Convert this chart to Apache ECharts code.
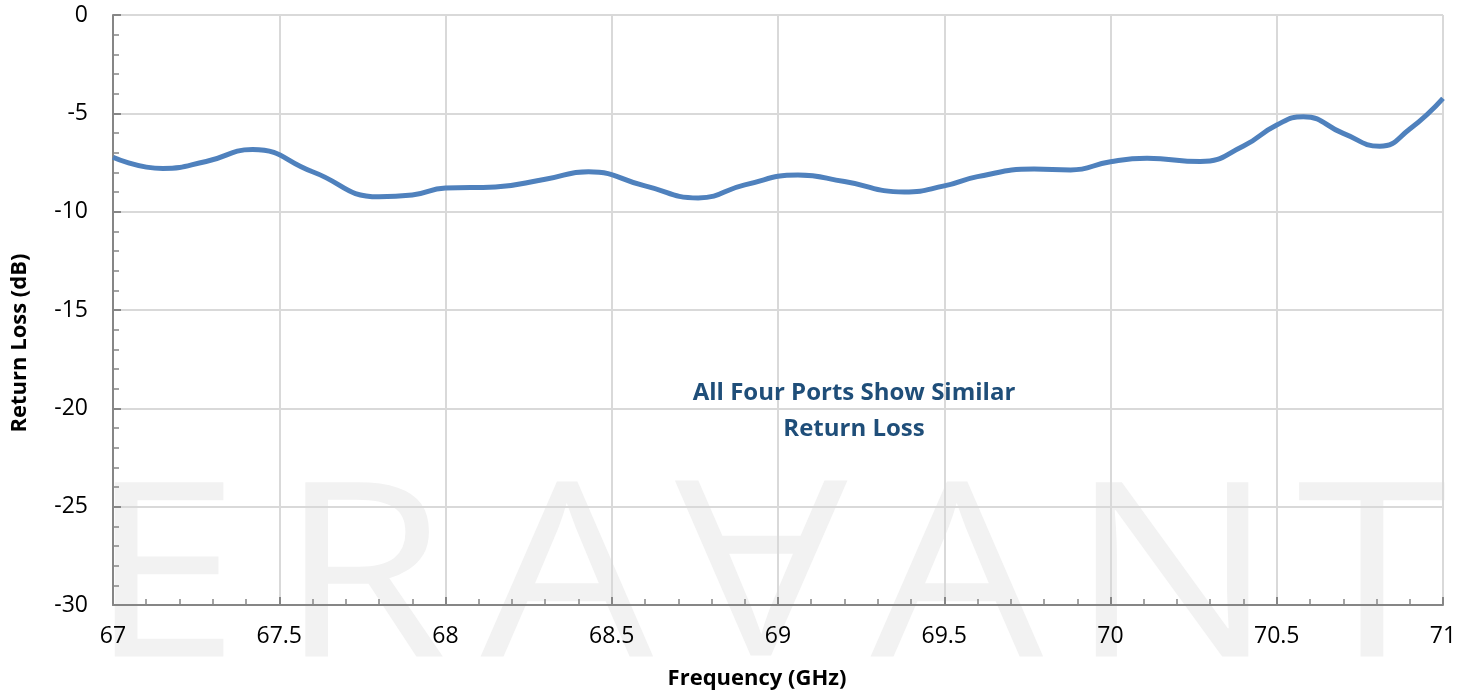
<!DOCTYPE html>
<html>
<head>
<meta charset="utf-8">
<script src="https://cdn.jsdelivr.net/npm/echarts@6/dist/echarts.min.js"></script>
<style>
html,body{margin:0;padding:0;background:#fff;}
#chart{width:1473px;height:694px;}
</style>
</head>
<body>
<div id="chart"></div>
<script>
// Frequency (GHz) – sampled at the curve's turning points and between them
const freq = [67.00,67.15,67.28,67.42,67.60,67.80,67.90,68.00,68.15,68.30,
              68.43,68.60,68.76,68.90,69.06,69.20,69.38,69.50,69.60,69.77,
              69.88,70.00,70.11,70.27,70.40,70.50,70.58,70.70,70.81,70.90,71.00];
// Return loss (dB)
const returnLoss = [-7.23,-7.80,-7.45,-6.84,-7.97,-9.24,-9.15,-8.80,-8.74,-8.35,
                    -7.97,-8.69,-9.30,-8.64,-8.14,-8.47,-9.00,-8.69,-8.22,-7.83,
                    -7.88,-7.46,-7.29,-7.45,-6.66,-5.59,-5.17,-6.02,-6.67,-5.80,-4.24];
const xTicks = {min: 67, max: 71, interval: 0.5};
const yTicks = {min: -30, max: 0, interval: 5};
const noteLines = ['All Four Ports Show Similar', 'Return Loss'];
const watermarkLetters = ['E','R','A','A','A','N','T'];

const chart = echarts.init(document.getElementById('chart'), null, {renderer:'canvas'});
const FONT = '"Open Sans", "Liberation Sans", sans-serif';

const wmX = [164, 363, 567, 761, 957, 1172, 1372];
const wmGraphics = watermarkLetters.map((ch, i) => {
  const inverted = (i === 3);
  return {
    type: 'text',
    z: -10,
    x: wmX[i],
    y: inverted ? 672 : 465,
    rotation: inverted ? Math.PI : 0,
    scaleX: 1.12,
    style: {
      text: ch,
      fill: '#f2f2f2',
      font: 'normal 244px ' + FONT,
      align: 'center',
      verticalAlign: 'top'
    },
    silent: true
  };
});

const axisColor = '#868686';
const option = {
  animation: false,
  backgroundColor: '#ffffff',
  grid: {left: 113, right: 30, top: 15, bottom: 89, containLabel: false, outerBoundsMode: 'none'},
  xAxis: {
    type: 'value',
    min: xTicks.min, max: xTicks.max, interval: xTicks.interval,
    name: 'Frequency (GHz)',
    nameLocation: 'middle',
    nameGap: 63,
    nameTextStyle: {fontFamily: FONT, fontWeight: 'bold', fontSize: 22, color: '#000', padding: [0, 42, 0, 0]},
    axisLine: {show: true, onZero: false, lineStyle: {color: axisColor, width: 2}},
    axisTick: {show: true, inside: true, length: 8, lineStyle: {color: axisColor, width: 2}},
    minorTick: {show: true, splitNumber: 5, length: 6, lineStyle: {color: axisColor, width: 1.5}},
    axisLabel: {fontFamily: FONT, fontSize: 23, color: '#000', margin: 20},
    splitLine: {show: true, lineStyle: {color: '#d9d9d9', width: 2}}
  },
  yAxis: {
    type: 'value',
    min: yTicks.min, max: yTicks.max, interval: yTicks.interval,
    name: 'Return Loss (dB)',
    nameLocation: 'middle',
    nameGap: 82,
    nameRotate: 90,
    nameTextStyle: {fontFamily: FONT, fontWeight: 'bold', fontSize: 22, color: '#000', padding: [0, 66, 0, 0]},
    axisLine: {show: true, onZero: false, lineStyle: {color: axisColor, width: 2}},
    axisTick: {show: true, inside: true, length: 8, lineStyle: {color: axisColor, width: 2}},
    minorTick: {show: true, splitNumber: 5, length: 6, lineStyle: {color: axisColor, width: 1.5}},
    axisLabel: {fontFamily: FONT, fontSize: 23, color: '#000', margin: 25},
    splitLine: {show: true, lineStyle: {color: '#d9d9d9', width: 2}}
  },
  graphic: wmGraphics.concat([
    {
      type: 'text',
      z: 100,
      x: 854, y: 411,
      style: {
        text: noteLines.join('\n'),
        fill: '#1f4e79',
        font: 'bold 24px ' + FONT,
        align: 'center',
        verticalAlign: 'middle',
        lineHeight: 36
      }
    }
  ]),
  series: [{
    type: 'line',
    data: freq.map((f, i) => [f, returnLoss[i]]),
    smooth: 0.5,
    showSymbol: false,
    lineStyle: {color: '#4f81bd', width: 5},
    z: 5
  }]
};
chart.setOption(option);
</script>
</body>
</html>
